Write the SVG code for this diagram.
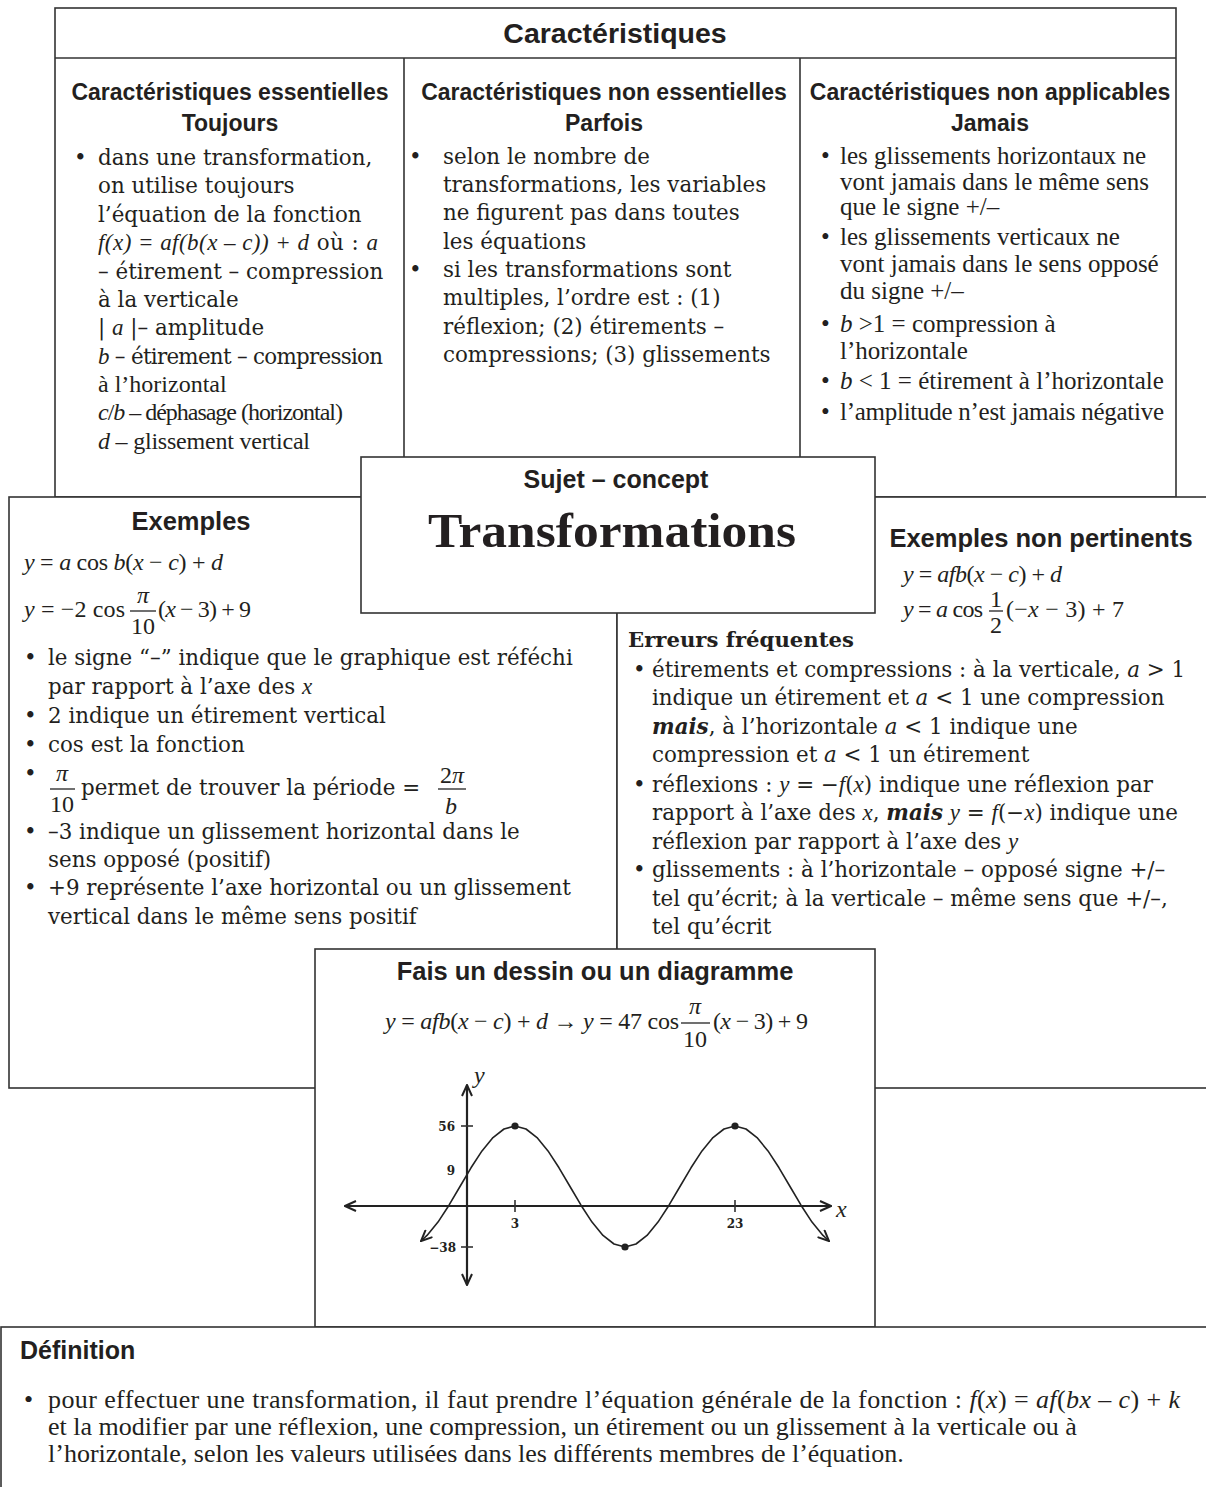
<svg xmlns="http://www.w3.org/2000/svg" width="1206" height="1487" viewBox="0 0 1206 1487">
<defs>
<style>
.box{fill:#fff;stroke:#333;stroke-width:1.6}
.ln{stroke:#333;stroke-width:1.6;fill:none}
.h{font-family:"Liberation Sans",Arial,sans-serif;font-weight:bold;fill:#231f20}
.c{font-family:"DejaVu Serif",serif;font-size:21.4px;fill:#231f20}
.t{font-family:"Liberation Serif","Times New Roman",serif;font-size:25px;fill:#231f20}
.m{font-family:"Liberation Serif","Times New Roman",serif;font-size:24px;fill:#231f20}
.mi{font-family:"Liberation Serif","Times New Roman",serif;font-style:italic}
.bi{font-weight:bold;font-style:italic}
.mid{text-anchor:middle}
.end{text-anchor:end}
.gl{font-family:"DejaVu Serif",serif;font-weight:bold;font-size:12px;fill:#231f20}
.ax{stroke:#222;stroke-width:2.2;fill:none}
</style>
<marker id="arr" viewBox="0 0 13 12" refX="12" refY="6" markerWidth="13" markerHeight="12" markerUnits="userSpaceOnUse" orient="auto-start-reverse">
<path d="M1,1 L12,6 L1,11" fill="none" stroke="#222" stroke-width="2"/>
</marker>
</defs>
<rect width="1206" height="1487" fill="#fff"/>

<g id="caracteristiques">
<rect class="box" x="55" y="8" width="1121" height="489"/>
<line class="ln" x1="55" y1="58" x2="1176" y2="58"/>
<line class="ln" x1="404" y1="58" x2="404" y2="457"/>
<line class="ln" x1="800" y1="58" x2="800" y2="457"/>
<text class="h mid" x="615" y="43" font-size="28.5">Caractéristiques</text>
<text class="h mid" x="230" y="100" font-size="23">Caractéristiques essentielles</text>
<text class="h mid" x="230" y="131" font-size="23">Toujours</text>
<text class="h mid" x="604" y="100" font-size="23">Caractéristiques non essentielles</text>
<text class="h mid" x="604" y="131" font-size="23">Parfois</text>
<text class="h mid" x="990" y="100" font-size="23">Caractéristiques non applicables</text>
<text class="h mid" x="990" y="131" font-size="23">Jamais</text>

<g class="c">
<text x="74" y="165">•</text>
<text x="98" y="165">dans une transformation,</text>
<text x="98" y="193">on utilise toujours</text>
<text x="98" y="222">l’équation de la fonction</text>
<text x="98" y="250" textLength="280"><tspan class="mi" font-size="23">f(x) = af(b(x – c)) + d</tspan> où : <tspan class="mi" font-size="23">a</tspan></text>
<text x="98" y="279">– étirement – compression</text>
<text x="98" y="307">à la verticale</text>
<text x="98" y="335">| <tspan class="mi" font-size="23">a</tspan> |– amplitude</text>
<text x="98" y="364" textLength="285"><tspan class="mi" font-size="23">b</tspan> – étirement – compression</text>
</g>
<g class="t">
<text x="98" y="392" font-size="24">à l’horizontal</text>
<text x="98" y="420" font-size="24" textLength="245"><tspan font-style="italic">c</tspan>/<tspan font-style="italic">b</tspan> – déphasage (horizontal)</text>
<text x="98" y="449" font-size="24" textLength="212"><tspan font-style="italic">d</tspan> – glissement vertical</text>
</g>

<g class="c">
<text x="409" y="164">•</text>
<text x="443" y="164">selon le nombre de</text>
<text x="443" y="192">transformations, les variables</text>
<text x="443" y="220">ne figurent pas dans toutes</text>
<text x="443" y="249">les équations</text>
<text x="409" y="277">•</text>
<text x="443" y="277">si les transformations sont</text>
<text x="443" y="305">multiples, l’ordre est : (1)</text>
<text x="443" y="334">réflexion; (2) étirements –</text>
<text x="443" y="362">compressions; (3) glissements</text>
</g>

<g class="t">
<text x="821" y="164">•</text>
<text x="840" y="164">les glissements horizontaux ne</text>
<text x="840" y="190">vont jamais dans le même sens</text>
<text x="840" y="215">que le signe +/–</text>
<text x="821" y="245">•</text>
<text x="840" y="245">les glissements verticaux ne</text>
<text x="840" y="272">vont jamais dans le sens opposé</text>
<text x="840" y="299">du signe +/–</text>
<text x="821" y="332">•</text>
<text x="840" y="332"><tspan font-style="italic">b</tspan> &gt;1 = compression à</text>
<text x="840" y="359">l’horizontale</text>
<text x="821" y="389">•</text>
<text x="840" y="389"><tspan font-style="italic">b</tspan> &lt; 1 = étirement à l’horizontale</text>
<text x="821" y="420">•</text>
<text x="840" y="420" textLength="324">l’amplitude n’est jamais négative</text>
</g>
</g>

<g id="exemples">
<rect class="box" x="9" y="497" width="608" height="591"/>
<text class="h mid" x="191" y="530" font-size="25.5">Exemples</text>
<text class="m" x="24" y="570" textLength="199"><tspan font-style="italic">y</tspan> = <tspan font-style="italic">a</tspan> cos <tspan font-style="italic">b</tspan>(<tspan font-style="italic">x</tspan> − <tspan font-style="italic">c</tspan>) + <tspan font-style="italic">d</tspan></text>
<text class="m" x="24" y="617" textLength="101"><tspan font-style="italic">y</tspan> = −2 cos</text>
<text class="m mid" x="143" y="603" font-style="italic">π</text>
<line x1="130" y1="611" x2="156" y2="611" stroke="#222" stroke-width="1.3"/>
<text class="m mid" x="143" y="634" font-size="23">10</text>
<text class="m" x="158" y="617" textLength="93">(<tspan font-style="italic">x</tspan> − 3) + 9</text>

<g class="c">
<text x="24" y="665">•</text>
<text x="48" y="665">le signe “–” indique que le graphique est réféchi</text>
<text x="48" y="694">par rapport à l’axe des <tspan class="mi" font-size="23">x</tspan></text>
<text x="24" y="723">•</text>
<text x="48" y="723">2 indique un étirement vertical</text>
<text x="24" y="752">•</text>
<text x="48" y="752">cos est la fonction</text>
<text x="24" y="781">•</text>
<text x="81" y="795">permet de trouver la période =</text>
<text x="24" y="839">•</text>
<text x="48" y="839">–3 indique un glissement horizontal dans le</text>
<text x="48" y="867">sens opposé (positif)</text>
<text x="24" y="895">•</text>
<text x="48" y="895">+9 représente l’axe horizontal ou un glissement</text>
<text x="48" y="924">vertical dans le même sens positif</text>
</g>
<text class="m mid" x="62" y="781" font-style="italic">π</text>
<line x1="50" y1="789" x2="75" y2="789" stroke="#222" stroke-width="1.3"/>
<text class="m mid" x="62" y="812" font-size="23">10</text>
<text class="m mid" x="452" y="783">2<tspan font-style="italic">π</tspan></text>
<line x1="438" y1="789" x2="466" y2="789" stroke="#222" stroke-width="1.3"/>
<text class="m mid" x="451" y="814" font-style="italic">b</text>
</g>

<g id="non-pertinents">
<rect class="box" x="617" y="497" width="595" height="591"/>
<text class="h mid" x="1041" y="547" font-size="25.5">Exemples non pertinents</text>
<text class="m" x="903" y="582" textLength="159"><tspan font-style="italic">y</tspan> = <tspan font-style="italic">afb</tspan>(<tspan font-style="italic">x</tspan> − <tspan font-style="italic">c</tspan>) + <tspan font-style="italic">d</tspan></text>
<text class="m" x="903" y="617" textLength="80"><tspan font-style="italic">y</tspan> = <tspan font-style="italic">a</tspan> cos</text>
<text class="m mid" x="996" y="607" font-size="19">1</text>
<line x1="989" y1="611" x2="1003" y2="611" stroke="#222" stroke-width="1.3"/>
<text class="m mid" x="996" y="633" font-size="20">2</text>
<text class="m" x="1006" y="617" textLength="118">(−<tspan font-style="italic">x</tspan> − 3) + 7</text>
</g>

<g id="erreurs">
<text x="628" y="647" font-family="'DejaVu Serif',serif" font-weight="bold" font-size="21.2" fill="#231f20">Erreurs fréquentes</text>
<g class="c">
<text x="633" y="677">•</text>
<text x="652" y="677">étirements et compressions : à la verticale, <tspan font-style="italic">a</tspan> &gt; 1</text>
<text x="652" y="705">indique un étirement et <tspan font-style="italic">a</tspan> &lt; 1 une compression</text>
<text x="652" y="734"><tspan class="bi">mais</tspan>, à l’horizontale <tspan font-style="italic">a</tspan> &lt; 1 indique une</text>
<text x="652" y="762">compression et <tspan font-style="italic">a</tspan> &lt; 1 un étirement</text>
<text x="633" y="792">•</text>
<text x="652" y="792">réflexions : <tspan class="mi" font-size="23">y</tspan> = −<tspan class="mi" font-size="23">f</tspan>(<tspan class="mi" font-size="23">x</tspan>) indique une réflexion par</text>
<text x="652" y="820">rapport à l’axe des <tspan class="mi" font-size="23">x</tspan>, <tspan class="bi">mais</tspan> <tspan class="mi" font-size="23">y</tspan> = <tspan class="mi" font-size="23">f</tspan>(−<tspan class="mi" font-size="23">x</tspan>) indique une</text>
<text x="652" y="849">réflexion par rapport à l’axe des <tspan class="mi" font-size="23">y</tspan></text>
<text x="633" y="877">•</text>
<text x="652" y="877">glissements : à l’horizontale – opposé signe +/–</text>
<text x="652" y="906">tel qu’écrit; à la verticale – même sens que +/–,</text>
<text x="652" y="934">tel qu’écrit</text>
</g>
</g>

<g id="sujet">
<rect class="box" x="361" y="457" width="514" height="156"/>
<text class="h mid" x="616" y="488" font-size="25">Sujet – concept</text>
<text x="612" y="547" text-anchor="middle" font-family="'Liberation Serif','Times New Roman',serif" font-weight="bold" font-size="48" textLength="368" lengthAdjust="spacingAndGlyphs" fill="#231f20">Transformations</text>
</g>

<g id="dessin">
<rect class="box" x="315" y="949" width="560" height="378"/>
<text class="h mid" x="595" y="980" font-size="25.5">Fais un dessin ou un diagramme</text>
<text class="m" x="385" y="1029" textLength="294"><tspan font-style="italic">y</tspan> = <tspan font-style="italic">afb</tspan>(<tspan font-style="italic">x</tspan> − <tspan font-style="italic">c</tspan>) + <tspan font-style="italic">d</tspan> → <tspan font-style="italic">y</tspan> = 47 cos</text>
<text class="m mid" x="695" y="1014" font-style="italic">π</text>
<line x1="681" y1="1023" x2="710" y2="1023" stroke="#222" stroke-width="1.3"/>
<text class="m mid" x="695" y="1047" font-size="23">10</text>
<text class="m" x="713" y="1029" textLength="95">(<tspan font-style="italic">x</tspan> − 3) + 9</text>

<line class="ax" x1="345" y1="1206" x2="831" y2="1206" marker-start="url(#arr)" marker-end="url(#arr)"/>
<line class="ax" x1="467" y1="1285" x2="467" y2="1085" marker-start="url(#arr)" marker-end="url(#arr)"/>
<line class="ln" x1="461" y1="1126" x2="473" y2="1126"/>
<line class="ln" x1="461" y1="1247" x2="473" y2="1247"/>
<line class="ln" x1="515" y1="1200" x2="515" y2="1212"/>
<line class="ln" x1="735" y1="1200" x2="735" y2="1212"/>
<text class="m" x="474" y="1083" font-size="22" font-style="italic">y</text>
<text class="m" x="836" y="1217" font-size="22" font-style="italic">x</text>
<text class="gl end" x="455" y="1131">56</text>
<text class="gl end" x="455" y="1175">9</text>
<text class="gl end" x="456" y="1252">−38</text>
<text class="gl mid" x="515" y="1228">3</text>
<text class="gl mid" x="735" y="1228">23</text>
<polyline fill="none" stroke="#222" stroke-width="1.6" stroke-linejoin="round" marker-start="url(#arr)" marker-end="url(#arr)" points="421,1241 427,1235.4 438,1222.1 449,1205.2 460,1186.5 471,1167.8 482,1150.9 493,1137.6 504,1129 515,1126 526,1129 537,1137.6 548,1150.9 559,1167.8 570,1186.5 581,1205.2 592,1222.1 603,1235.4 614,1244 625,1247 636,1244 647,1235.4 658,1222.1 669,1205.2 680,1186.5 691,1167.8 702,1150.9 713,1137.6 724,1129 735,1126 746,1129 757,1137.6 768,1150.9 779,1167.8 790,1186.5 801,1205.2 812,1222.1 823,1235.4 829,1241"/>
<circle cx="515" cy="1126" r="3.6" fill="#222"/>
<circle cx="625" cy="1247" r="3.6" fill="#222"/>
<circle cx="735" cy="1126" r="3.6" fill="#222"/>
</g>

<g id="definition">
<rect class="box" x="1" y="1327" width="1215" height="200"/>
<text class="h" x="20" y="1359" font-size="25">Définition</text>
<g class="t">
<text x="24" y="1408" font-size="26">•</text>
<text x="48" y="1408" font-size="26" textLength="1132">pour effectuer une transformation, il faut prendre l’équation générale de la fonction : <tspan font-style="italic">f</tspan>(<tspan font-style="italic">x</tspan>) = <tspan font-style="italic">af</tspan>(<tspan font-style="italic">bx</tspan> – <tspan font-style="italic">c</tspan>) + <tspan font-style="italic">k</tspan></text>
<text x="48" y="1435" font-size="26">et la modifier par une réflexion, une compression, un étirement ou un glissement à la verticale ou à</text>
<text x="48" y="1462" font-size="26">l’horizontale, selon les valeurs utilisées dans les différents membres de l’équation.</text>
</g>
</g>

<g id="connectors"/>
</svg>
